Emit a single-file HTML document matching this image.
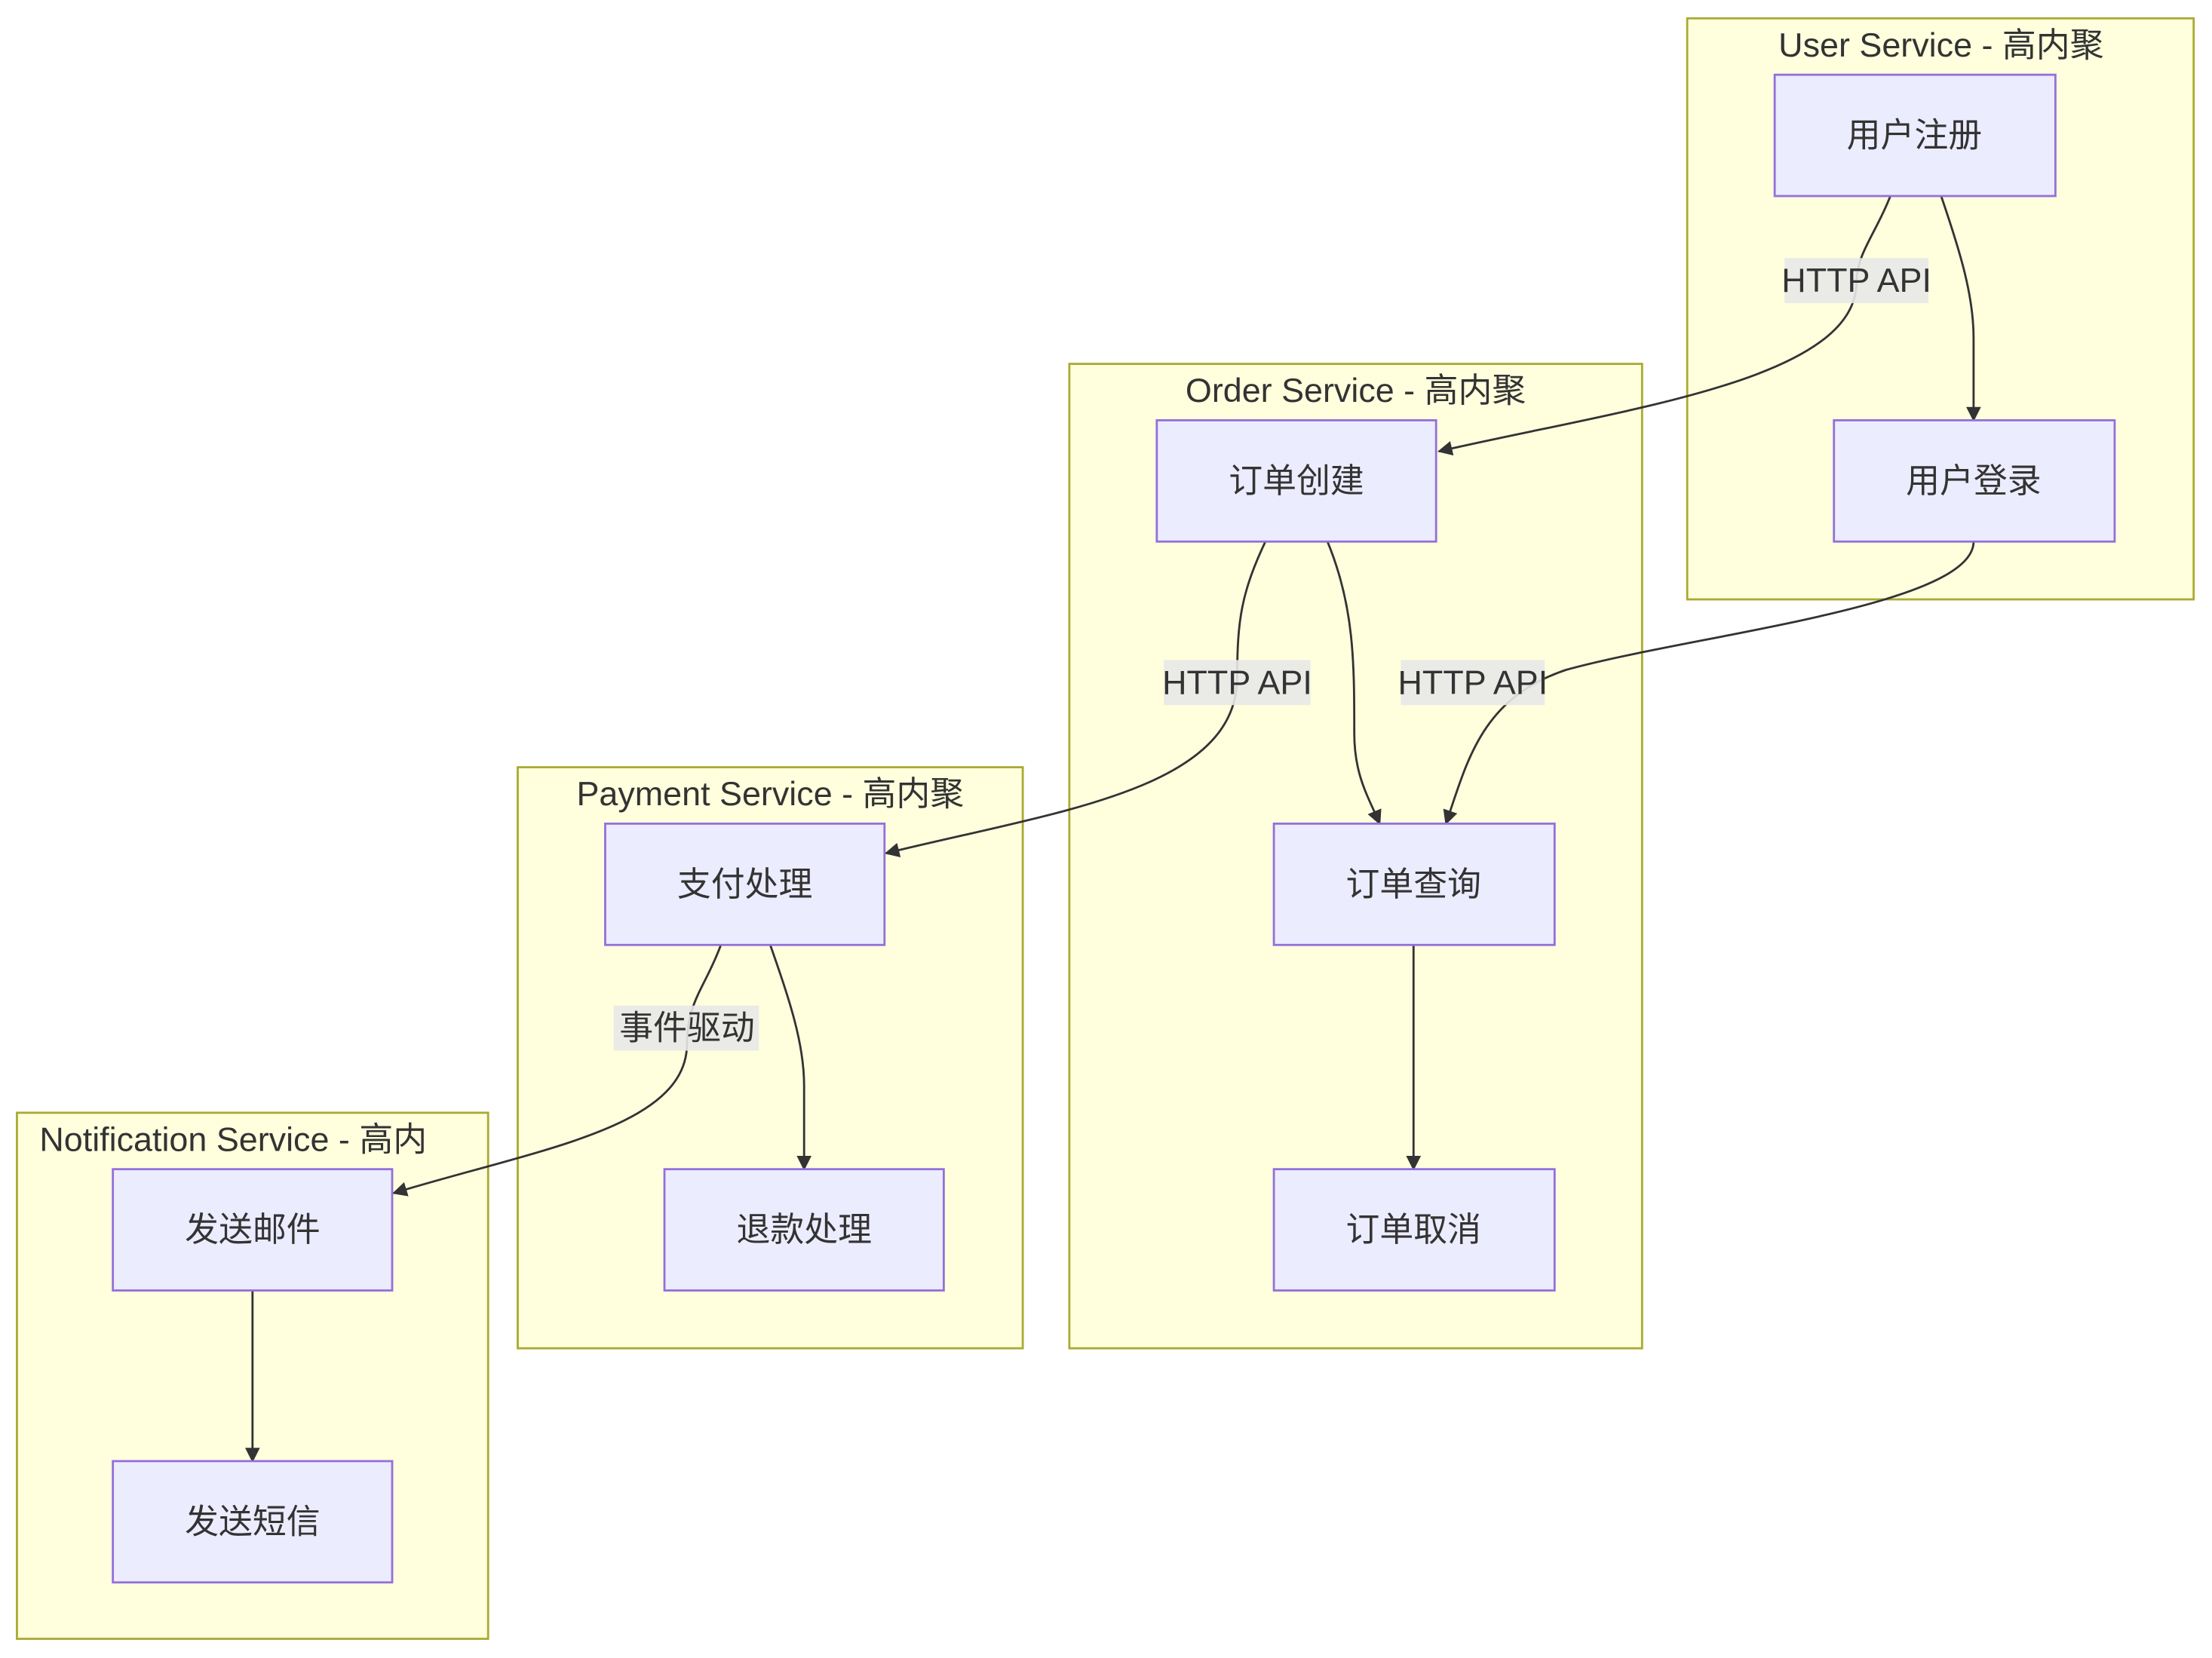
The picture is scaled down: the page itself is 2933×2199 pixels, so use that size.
<!DOCTYPE html>
<html><head><meta charset="utf-8"><style>
html,body{margin:0;padding:0;background:#fff;width:2933px;height:2199px;overflow:hidden}
text{font-family:"Liberation Sans","Noto Sans CJK SC",sans-serif;fill:#333;font-size:24px}
</style></head><body>
<svg width="2933" height="2199" viewBox="0 0 1568 1175.6" xmlns="http://www.w3.org/2000/svg">
<defs><marker id="a" viewBox="0 0 10 10" refX="9" refY="5" markerWidth="7" markerHeight="7" orient="auto"><path d="M0,0L10,5L0,10z" fill="#333"/></marker></defs>
<g fill="#ffffde" stroke="#aaaa33" stroke-width="1.5">
<rect x="1196" y="13" width="359" height="412"/>
<rect x="758" y="258" width="406" height="698"/>
<rect x="367" y="544" width="358" height="412"/>
<rect x="12" y="789" width="334" height="373"/>
</g>
<text x="1376" y="40" text-anchor="middle">User Service - 高内聚</text>
<text x="961" y="285" text-anchor="middle">Order Service - 高内聚</text>
<text x="546" y="571" text-anchor="middle">Payment Service - 高内聚</text>
<text x="28" y="816">Notification Service - 高内</text>
<g fill="none" stroke="#333" stroke-width="1.5">
<path d="M1340,139 C1330,165 1316,180 1316,200 C1316,270 1150,290 1020,320" marker-end="url(#a)"/>
<path d="M1376,139 C1390,180 1399,210 1399,240 L1399,298" marker-end="url(#a)"/>
<path d="M1399,384 C1399,430 1200,450 1110,475 C1050,495 1040,540 1025,584" marker-end="url(#a)"/>
<path d="M897,384 C880,420 877,440 877,480 C877,560 750,575 628,605" marker-end="url(#a)"/>
<path d="M941,384 C960,430 960,470 960,520 C960,550 970,565 978,584" marker-end="url(#a)"/>
<path d="M511,670 C500,700 487,710 487,740 C487,800 380,815 279,846" marker-end="url(#a)"/>
<path d="M546,670 C560,710 570,740 570,770 L570,829" marker-end="url(#a)"/>
<path d="M1002,670 L1002,829" marker-end="url(#a)"/>
<path d="M179,915 L179,1036" marker-end="url(#a)"/>
</g>
<g fill="#e8e8e8" fill-opacity="0.9">
<rect x="1265" y="183" width="102" height="32"/>
<rect x="825" y="468" width="104" height="32"/>
<rect x="993" y="468" width="102" height="32"/>
<rect x="435" y="713" width="103" height="32"/>
</g>
<text x="1316" y="207" text-anchor="middle">HTTP API</text>
<text x="877" y="492" text-anchor="middle">HTTP API</text>
<text x="1044" y="492" text-anchor="middle">HTTP API</text>
<text x="487" y="737" text-anchor="middle">事件驱动</text>
<g fill="#ececff" stroke="#9370db" stroke-width="1.5">
<rect x="1258" y="53" width="199" height="86"/>
<rect x="1300" y="298" width="199" height="86"/>
<rect x="820" y="298" width="198" height="86"/>
<rect x="903" y="584" width="199" height="86"/>
<rect x="903" y="829" width="199" height="86"/>
<rect x="429" y="584" width="198" height="86"/>
<rect x="471" y="829" width="198" height="86"/>
<rect x="80" y="829" width="198" height="86"/>
<rect x="80" y="1036" width="198" height="86"/>
</g>
<g text-anchor="middle">
<text x="1357" y="104">用户注册</text>
<text x="1399" y="349">用户登录</text>
<text x="919" y="349">订单创建</text>
<text x="1002" y="635">订单查询</text>
<text x="1002" y="880">订单取消</text>
<text x="528" y="635">支付处理</text>
<text x="570" y="880">退款处理</text>
<text x="179" y="880">发送邮件</text>
<text x="179" y="1087">发送短信</text>
</g>
</svg>
</body></html>
